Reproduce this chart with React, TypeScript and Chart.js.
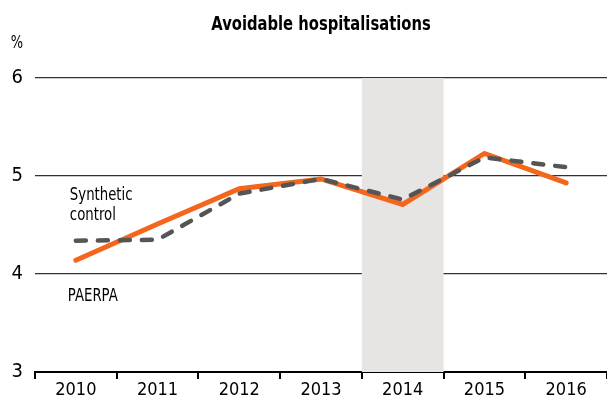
import React, { useEffect, useRef } from "react";
import { Chart, registerables } from "chart.js";

Chart.register(...registerables);

const years = ["2010", "2011", "2012", "2013", "2014", "2015", "2016"];
const paerpa = [4.14, 4.51, 4.87, 4.97, 4.71, 5.23, 4.93];
const synthetic = [4.34, 4.35, 4.82, 4.97, 4.76, 5.19, 5.09];
const yTicks = [3, 4, 5, 6];
const shadedYear = "2014";
const titleText = "Avoidable hospitalisations";
const unitText = "%";
const syntheticLabel = ["Synthetic", "control"];
const paerpaLabel = "PAERPA";

const FONT = "'DejaVu Sans Condensed', 'Liberation Sans Narrow', 'DejaVu Sans', sans-serif";

function narrowText(ctx: any, text: string, x: number, y: number, font: string, sx: number, align: string) {
  ctx.save();
  ctx.font = font;
  ctx.textAlign = align;
  ctx.textBaseline = "middle";
  ctx.translate(x, y);
  ctx.scale(sx, 1);
  ctx.fillText(text, 0, 0);
  ctx.restore();
}

export default function App() {
  const ref = useRef<HTMLCanvasElement | null>(null);
  useEffect(() => {
    if (!ref.current) return;
    const decor = {
      id: "decor",
      beforeDatasetsDraw(chart: any) {
        const { ctx, chartArea, scales } = chart;
        const x = scales.x;
        const i = years.indexOf(shadedYear);
        const c = x.getPixelForValue(i);
        const half = (x.getPixelForValue(1) - x.getPixelForValue(0)) / 2;
        ctx.save();
        ctx.fillStyle = "#e6e5e3";
        ctx.fillRect(c - half, chartArea.top, half * 2, chartArea.bottom - chartArea.top);
        ctx.restore();
      },
      afterDraw(chart: any) {
        const { ctx, scales } = chart;
        const x = scales.x;
        const y = scales.y;
        ctx.fillStyle = "#000";
        narrowText(ctx, titleText, 321, 25, `bold 20px ${FONT}`, 0.82, "center");
        narrowText(ctx, unitText, 17, 44, `17px ${FONT}`, 0.85, "center");
        const lx = x.getPixelForValue(0) - 6;
        narrowText(ctx, syntheticLabel[0], lx, y.getPixelForValue(4.8), `18px ${FONT}`, 0.82, "left");
        narrowText(ctx, syntheticLabel[1], lx, y.getPixelForValue(4.6), `18px ${FONT}`, 0.82, "left");
        narrowText(ctx, paerpaLabel, lx - 2, y.getPixelForValue(3.77), `18px ${FONT}`, 0.82, "left");
      },
    };
    const chart = new Chart(ref.current, {
      type: "line",
      data: {
        labels: years,
        datasets: [
          {
            label: "Synthetic control",
            data: synthetic,
            borderColor: "#555555",
            borderWidth: 4.5,
            borderDash: [10, 12],
            borderCapStyle: "round",
            pointRadius: 0,
            tension: 0,
            order: 0,
          },
          {
            label: "PAERPA",
            data: paerpa,
            borderColor: "#f4661b",
            borderWidth: 5,
            borderCapStyle: "round",
            pointRadius: 0,
            tension: 0,
            order: 1,
          },
        ],
      },
      options: {
        animation: false,
        responsive: true,
        maintainAspectRatio: false,
        layout: { padding: { top: 78, right: 0, left: 0, bottom: 0 } },
        plugins: {
          legend: { display: false },
          title: { display: false },
          tooltip: { enabled: false },
        },
        scales: {
          x: {
            offset: true,
            grid: {
              offset: true,
              drawOnChartArea: false,
              drawTicks: true,
              tickLength: 7,
              color: "#000",
              lineWidth: 2,
            },
            border: { display: true, color: "#000", width: 2 },
            ticks: {
              color: "#000",
              font: { family: FONT, size: 18 },
              padding: 1,
              maxRotation: 0,
            },
            afterFit(scale: any) {
              scale.height = 30;
            },
          },
          y: {
            min: 3,
            max: 6,
            afterBuildTicks(scale: any) {
              scale.ticks = yTicks.map((v) => ({ value: v }));
            },
            grid: {
              drawTicks: false,
              color: (ctx: any) => (ctx.tick && ctx.tick.value === 3 ? "rgba(0,0,0,0)" : "#333333"),
              lineWidth: 1.2,
            },
            border: { display: false },
            ticks: {
              color: "#000",
              font: { family: FONT, size: 20 },
              padding: 12,
            },
            afterFit(scale: any) {
              scale.width = 35;
            },
          },
        },
      },
      plugins: [decor],
    });
    return () => chart.destroy();
  }, []);
  return (
    <div style={{ position: "fixed", left: 0, top: 0, width: 607, height: 402, background: "#fff" }}>
      <canvas ref={ref} />
    </div>
  );
}
